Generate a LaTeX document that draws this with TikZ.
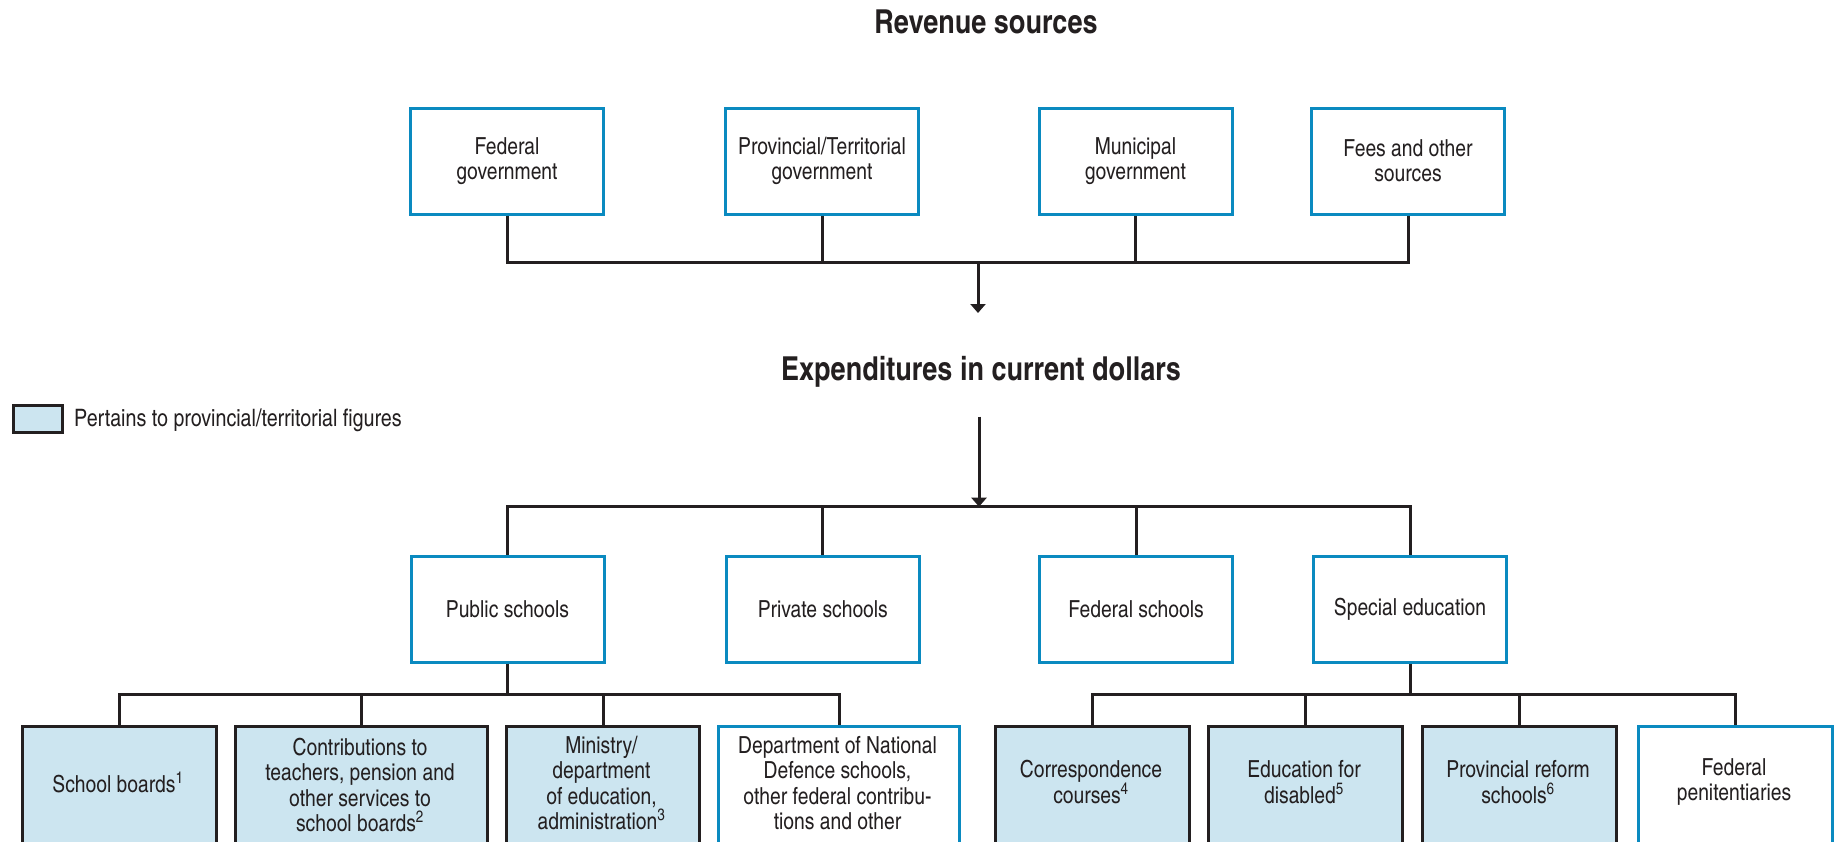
\documentclass[tikz,border=0pt]{standalone}
\usepackage{fontspec}
\setmainfont{texgyreheroscn-regular.otf}[BoldFont=texgyreheroscn-bold.otf]
\usetikzlibrary{arrows.meta,calc}
\definecolor{ink}{HTML}{231F20}
\definecolor{boxblue}{HTML}{0A8AC0}
\definecolor{provfill}{HTML}{CCE5F0}
\tikzset{
  bluebox/.style={draw=boxblue, line width=3pt, fill=white, minimum width=193pt,
    align=center, inner sep=0pt, text=ink, font=\fontsize{23.5}{25}\selectfont},
  provbox/.style={draw=ink, line width=3pt, fill=provfill, inner sep=0pt},
  fedbox/.style={draw=boxblue, line width=3pt, fill=white, inner sep=0pt},
  boxtext/.style={align=center, inner sep=0pt, text=ink, font=\fontsize{23.5}{25.4}\selectfont},
  heading/.style={text=ink, inner sep=0pt, font=\fontsize{33}{39}\selectfont\bfseries},
  conn/.style={draw=ink, line width=3pt},
  arr/.style={draw=ink, line width=3pt, -{Triangle[width=15pt,length=9pt]}},
}
\begin{document}
\begin{tikzpicture}[x=1pt,y=-1pt]
\path[use as bounding box] (0,0) rectangle (1837,841);
\clip (0,0) rectangle (1837,841);

% headings
\node[heading] (revtitle) at (986,21.5) {Revenue sources};
\node[heading] (exptitle) at (981,371.7) {Expenditures in current dollars};

% revenue sources
\node[bluebox, minimum height=106pt] (fed)  at (507,161)    {Federal\\government};
\node[bluebox, minimum height=106pt] (prov) at (822,161)    {Provincial/Territorial\\government};
\node[bluebox, minimum height=106pt] (mun)  at (1135.5,161) {Municipal\\government};
\node[bluebox, minimum height=106pt] (fees) at (1408,161)   {Fees and other\\sources};

\coordinate (revjoin) at (978,262.7);
\coordinate (revend)  at (978,313);
\draw[conn] (fed.south)  |- (revjoin);
\draw[conn] (fees.south) |- (revjoin);
\draw[conn] (prov.south) |- (revjoin);
\draw[conn] (mun.south)  |- (revjoin);
\draw[arr] (revjoin) -- (revend);

% legend
\node[provbox, minimum width=49pt, minimum height=27pt] (legbox) at (37.5,418.5) {};
\node[boxtext, anchor=west, font=\fontsize{24}{26}\selectfont] (legtext) at (74,420) {Pertains to provincial/territorial figures};

% expenditure categories
\coordinate (expstart) at (979,416.7);
\coordinate (expjoin)  at (979,506.7);
\draw[arr] (expstart) -- (expjoin);

\node[bluebox, minimum height=105.5pt] (pub)  at (507.5,609.3) {Public schools};
\node[bluebox, minimum height=105.5pt] (priv) at (822.8,609.3) {Private schools};
\node[bluebox, minimum height=105.5pt] (fsch) at (1136,609.3)  {Federal schools};
\node[bluebox, minimum height=105.5pt] (spec) at (1410,609.3)  {Special education};

\draw[conn] (expjoin) -| (pub.north);
\draw[conn] (expjoin) -| (spec.north);
\draw[conn] (expjoin) -| (priv.north);
\draw[conn] (expjoin) -| (fsch.north);

% public school spending
\node[provbox, anchor=north west, minimum width=194pt, minimum height=130pt] (sb)   at (21,725)  {};
\node[provbox, anchor=north west, minimum width=252pt, minimum height=130pt] (cont) at (234,725) {};
\node[provbox, anchor=north west, minimum width=193pt, minimum height=130pt] (min)  at (505,725) {};
\node[fedbox,  anchor=north west, minimum width=241pt, minimum height=130pt] (dnd)  at (717,725) {};

\node[boxtext] (sbt)   at (118,782)   {School boards\textsuperscript{1}};
\node[boxtext] (contt) at (360,785)   {Contributions to\\teachers, pension and\\other services to\\school boards\textsuperscript{2}};
\node[boxtext] (mint)  at (601.5,783) {Ministry/\\department\\of education,\\administration\textsuperscript{3}};
\node[boxtext] (dndt)  at (837.5,783) {Department of National\\Defence schools,\\other federal contribu-\\tions and other};

\coordinate (pubjoin) at (507.5,694);
\draw[conn] (pub.south) -- (pubjoin);
\draw[conn] (pubjoin) -| (sb.north);
\draw[conn] (pubjoin) -| (dnd.north);
\draw[conn] (pubjoin) -| (cont.north);
\draw[conn] (pubjoin) -| (min.north);

% special education spending
\node[provbox, anchor=north west, minimum width=194pt, minimum height=130pt] (corr) at (994,725)  {};
\node[provbox, anchor=north west, minimum width=194pt, minimum height=130pt] (dis)  at (1207,725) {};
\node[provbox, anchor=north west, minimum width=194pt, minimum height=130pt] (ref)  at (1421,725) {};
\node[fedbox,  anchor=north west, minimum width=194pt, minimum height=130pt] (pen)  at (1637,725) {};

\node[boxtext] (corrt) at (1091,782) {Correspondence\\courses\textsuperscript{4}};
\node[boxtext] (dist)  at (1304,782) {Education for\\disabled\textsuperscript{5}};
\node[boxtext] (reft)  at (1518,782) {Provincial reform\\schools\textsuperscript{6}};
\node[boxtext] (pent)  at (1734,782) {Federal\\penitentiaries};

\coordinate (specjoin) at (1410,694);
\draw[conn] (spec.south) -- (specjoin);
\draw[conn] (specjoin) -| (corr.north);
\draw[conn] (specjoin) -| (pen.north);
\draw[conn] (specjoin) -| (dis.north);
\draw[conn] (specjoin) -| (ref.north);
\end{tikzpicture}
\end{document}
